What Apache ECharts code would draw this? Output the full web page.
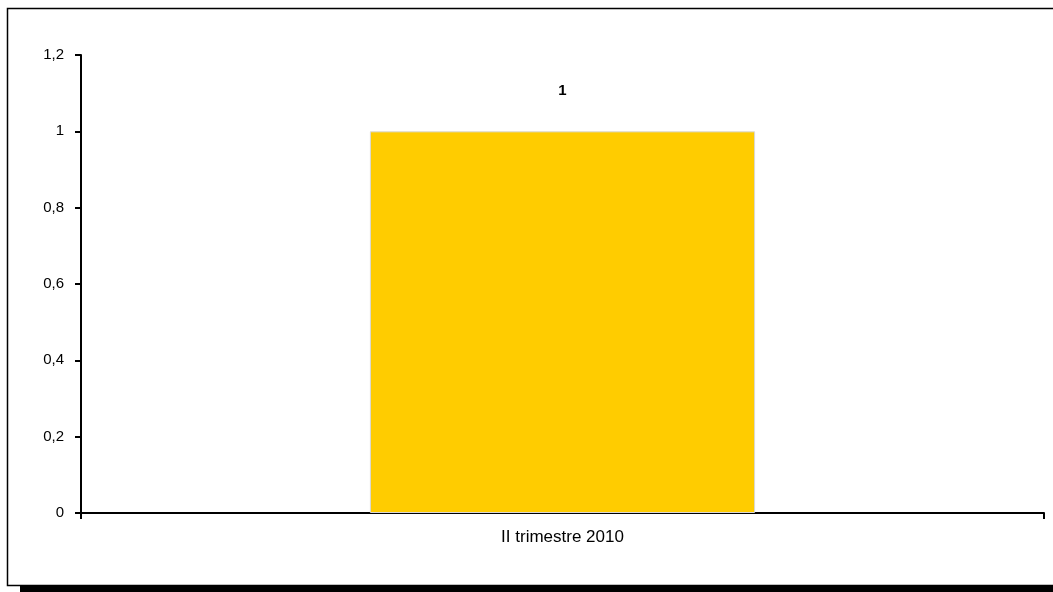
<!DOCTYPE html>
<html><head><meta charset="utf-8">
<script src="https://cdn.jsdelivr.net/npm/echarts@6/dist/echarts.min.js"></script>
<style>html,body{margin:0;padding:0;background:#fff}#c{width:1053px;height:592px}</style>
</head><body><div id="c"></div>
<script>
var categories = ['II trimestre 2010'];
var values = [1];
var yTicks = [0, 0.2, 0.4, 0.6, 0.8, 1, 1.2];

var chart = echarts.init(document.getElementById('c'), null, {renderer: 'canvas'});
var fmt = function (v) { return String(Math.round(v * 10) / 10).replace('.', ','); };
chart.setOption({
  animation: false,
  backgroundColor: '#fff',
  textStyle: {fontFamily: 'Liberation Sans, Arial, sans-serif'},
  graphic: [
    {type: 'rect', shape: {x: 7.5, y: 8.5, width: 1060, height: 577}, style: {fill: 'none', stroke: '#000', lineWidth: 1.5}, z: 0},
    {type: 'rect', shape: {x: 20, y: 586, width: 1040, height: 8}, style: {fill: '#000'}, z: 0}
  ],
  grid: {left: 81, top: 55, right: 9, bottom: 79, containLabel: false},
  xAxis: {
    type: 'category', data: categories,
    axisLine: {lineStyle: {color: '#000', width: 2}},
    axisTick: {show: true, length: 6, lineStyle: {color: '#000', width: 2}},
    axisLabel: {color: '#000', fontSize: 17, margin: 16, fontFamily: 'Liberation Sans, Arial, sans-serif'}
  },
  yAxis: {
    type: 'value', min: 0, max: 1.2, interval: 0.2,
    splitLine: {show: false},
    axisLine: {show: true, lineStyle: {color: '#000', width: 2}},
    axisTick: {show: true, length: 6, lineStyle: {color: '#000', width: 2}},
    axisLabel: {color: '#000', fontSize: 15, margin: 17, formatter: fmt, fontFamily: 'Liberation Sans, Arial, sans-serif'}
  },
  series: [{
    type: 'bar', data: values, barWidth: '40%',
    itemStyle: {color: '#FFCC00', borderColor: '#d8d8d8', borderWidth: 1},
    label: {show: true, position: 'top', distance: 33, color: '#000', fontWeight: 'bold', fontSize: 15, formatter: function (p) { return fmt(p.value); }}
  }]
});
</script></body></html>
